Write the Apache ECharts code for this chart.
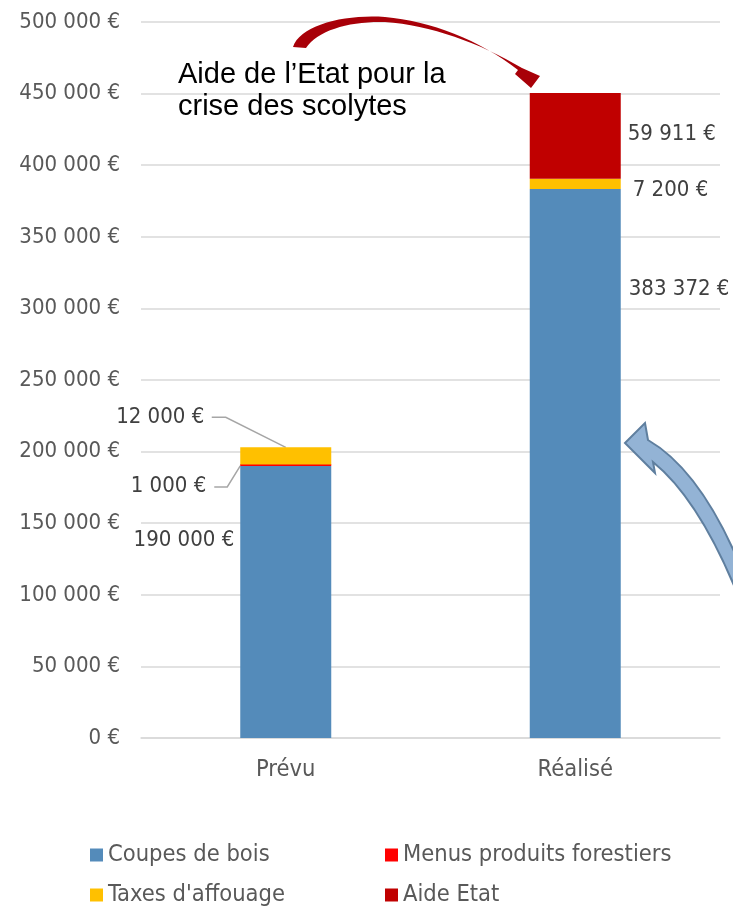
<!DOCTYPE html>
<html>
<head>
    <meta charset="utf-8">
    <title>recettes</title>
    <script src="https://cdn.jsdelivr.net/npm/echarts@6/dist/echarts.min.js"></script>
</head>
<body style="margin:0">

<div id="main" style="width: 733px;height:906px;"></div>

<script type="text/javascript">
    // données (null = pas de montant)
    var categories = ['Prévu', 'Réalisé'];
    var coupesBois = [190000, 383372];
    var menusProduits = [1000, null];
    var taxesAffouage = [12000, 7200];
    var aideEtat = [null, 59911];
    var yTicks = [0, 50000, 100000, 150000, 200000, 250000, 300000, 350000, 400000, 450000, 500000];

    var police = '"DejaVu Sans Condensed", "DejaVu Sans", sans-serif';

    function euros(v) {
        return String(Math.round(v)).replace(/\B(?=(\d{3})+(?!\d))/g, ' ') + ' €';
    }

    // placement des étiquettes autour des barres (en px)
    var placement = {
        coupes: [['right', -6, 74], ['left', 8, 100]],
        menus: [['right', -34, 22], null],
        taxes: [['right', -36, -30], ['left', 12, 12]],
        aide: [null, ['left', 7, 'mid']]
    };

    function layoutFor(key) {
        return function (p) {
            var pl = placement[key][p.dataIndex];
            if (!pl) return {};
            var r = p.rect;
            var x = pl[0] === 'right' ? r.x + pl[1] : r.x + r.width + pl[1];
            var y = pl[2] === 'mid' ? r.y + r.height / 2 - 2 : r.y + pl[2];
            return {x: x, y: y, align: pl[0], verticalAlign: 'middle'};
        };
    }

    function serie(name, data, color, key, minH) {
        return {
            name: name,
            type: 'bar',
            stack: 'total',
            barWidth: 91,
            barMinHeight: minH || 0,
            data: data,
            itemStyle: {color: color},
            label: {
                show: true,
                formatter: function (p) { return p.value ? euros(p.value) : ''; },
                color: '#404040',
                fontSize: 22,
                fontFamily: police
            },
            labelLayout: layoutFor(key)
        };
    }

    function legende(name, left, top) {
        return {
            data: [name],
            left: left,
            top: top,
            padding: 0,
            icon: 'rect',
            itemWidth: 13,
            itemHeight: 13,
            selectedMode: false,
            textStyle: {color: '#595959', fontSize: 23.5, fontFamily: police}
        };
    }

    // formes libres des flèches
    echarts.graphic.registerShape('flecheRouge', echarts.graphic.extendShape({
        shape: {},
        buildPath: function (ctx) {
            ctx.moveTo(293, 47);
            ctx.bezierCurveTo(300, 25, 345, 14, 385, 17);
            ctx.bezierCurveTo(430, 21, 480, 40, 518, 70);
            ctx.lineTo(515, 74);
            ctx.lineTo(531, 88);
            ctx.lineTo(540, 76);
            ctx.lineTo(522, 68);
            ctx.bezierCurveTo(480, 43, 430, 25, 385, 22);
            ctx.bezierCurveTo(350, 21, 318, 30, 306, 48);
            ctx.closePath();
        }
    }));
    echarts.graphic.registerShape('flecheBleue', echarts.graphic.extendShape({
        shape: {},
        buildPath: function (ctx) {
            ctx.moveTo(625, 443);
            ctx.lineTo(645, 423);
            ctx.lineTo(648, 440);
            ctx.quadraticCurveTo(700, 470, 740, 565);
            ctx.lineTo(740, 600);
            ctx.quadraticCurveTo(700, 500, 653, 462);
            ctx.lineTo(655, 473);
            ctx.closePath();
        }
    }));

    var myChart = echarts.init(document.getElementById('main'));

    var option = {
        animation: false,
        grid: {left: 141, right: 13, top: 22, bottom: 168},
        legend: [
            legende('Coupes de bois', 90, 843),
            legende('Menus produits forestiers', 385, 843),
            legende("Taxes d'affouage", 90, 883),
            legende('Aide Etat', 385, 883)
        ],
        xAxis: {
            type: 'category',
            data: categories,
            axisLine: {lineStyle: {color: '#d9d9d9', width: 1.5}},
            axisTick: {show: false},
            axisLabel: {color: '#595959', fontSize: 23.5, fontFamily: police, margin: 20}
        },
        yAxis: {
            type: 'value',
            min: yTicks[0],
            max: yTicks[yTicks.length - 1],
            interval: yTicks[1] - yTicks[0],
            axisLabel: {
                color: '#595959', fontSize: 22, fontFamily: police, margin: 21,
                formatter: euros
            },
            splitLine: {lineStyle: {color: '#d9d9d9', width: 1.5}}
        },
        series: [
            serie('Coupes de bois', coupesBois, '#548bba', 'coupes'),
            serie('Menus produits forestiers', menusProduits, '#ff0000', 'menus', 2),
            serie("Taxes d'affouage", taxesAffouage, '#ffc000', 'taxes'),
            serie('Aide Etat', aideEtat, '#c00000', 'aide')
        ]
    };

    myChart.setOption(option);

    // lignes de rappel + annotations
    var totalPrevu = coupesBois[0] + menusProduits[0] + taxesAffouage[0];
    var pTop = myChart.convertToPixel({gridIndex: 0}, [categories[0], totalPrevu]);
    var pCoupes = myChart.convertToPixel({gridIndex: 0}, [categories[0], coupesBois[0]]);
    var demi = 45.5;
    var fontNote = '29px "Liberation Sans", Arial, sans-serif';

    myChart.setOption({
        graphic: [
            {
                type: 'polyline',
                shape: {points: [[pTop[0] - 74, pTop[1] - 30], [pTop[0] - 60, pTop[1] - 30], pTop]},
                style: {stroke: '#a6a6a6', lineWidth: 1.5, fill: null}
            },
            {
                type: 'polyline',
                shape: {points: [[pCoupes[0] - demi - 26, pCoupes[1] + 21], [pCoupes[0] - demi - 13, pCoupes[1] + 21], [pCoupes[0] - demi, pCoupes[1]]]},
                style: {stroke: '#a6a6a6', lineWidth: 1.5, fill: null}
            },
            {
                type: 'text',
                x: 178,
                y: 75,
                style: {text: 'Aide de l’Etat pour la', font: fontNote, fill: '#000', verticalAlign: 'middle'}
            },
            {
                type: 'text',
                x: 178,
                y: 107,
                style: {text: 'crise des scolytes', font: fontNote, fill: '#000', verticalAlign: 'middle'}
            },
            {
                type: 'flecheRouge',
                style: {fill: '#a80008'}
            },
            {
                type: 'flecheBleue',
                style: {fill: '#93b3d5', stroke: '#5f7f9f', lineWidth: 2}
            }
        ]
    });
</script>
</body>
</html>
